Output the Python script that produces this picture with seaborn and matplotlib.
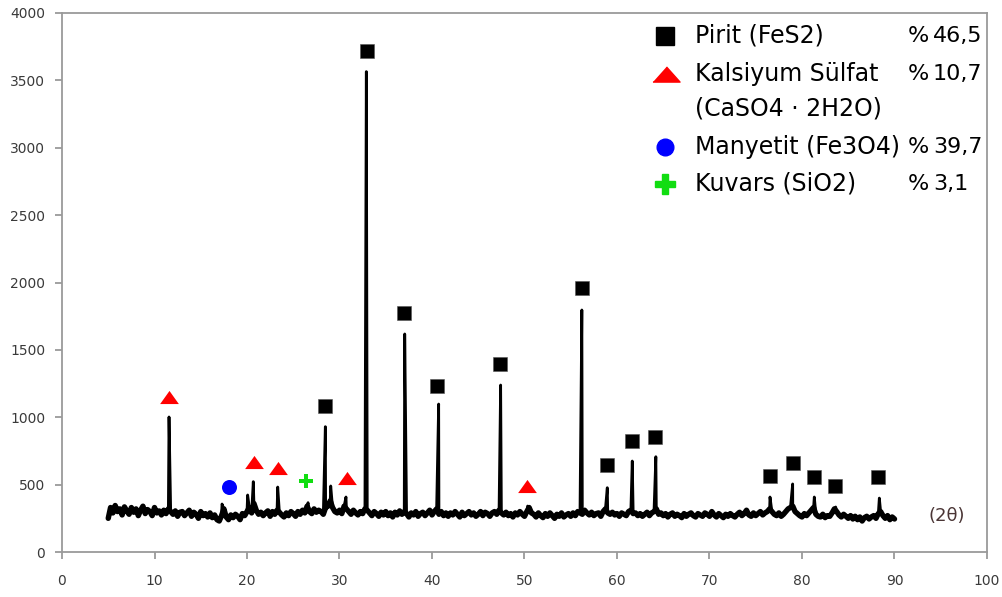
import numpy as np
import pandas as pd
import matplotlib
matplotlib.use("Agg")
import matplotlib.pyplot as plt
import seaborn as sns

# Background counts of the diffractogram, sampled every 0.25 deg from 5 to 90 deg (2-theta)
scan_start = 5.0
scan_step = 0.25
background_counts = [
    250, 330, 290, 345,   300, 320, 275, 335,   305, 280, 330, 295,   320, 270, 310, 340,   # 5-8
    285, 315, 300, 270,   330, 290, 305, 275,   310, 285, 320, 300,   280, 305, 265, 295,   # 9-12
    300, 270, 290, 310,   265, 295, 280, 250,   300, 270, 285, 260,   290, 255, 275, 240,   # 13-16
    230, 270, 320, 260,   240, 275, 255, 280,   265, 240, 285, 270,   300, 330, 290, 360,   # 17-20
    310, 280, 295, 270,   290, 305, 265, 300,   280, 310, 295, 275,   260, 290, 270, 300,   # 21-24
    285, 265, 300, 280,   310, 290, 340, 300,   285, 320, 295, 310,   300, 280, 330, 340,   # 25-28
    380, 330, 300, 290,   310, 285, 340, 320,   300, 280, 310, 290,   275, 300, 285, 320,   # 29-32
    310, 290, 270, 300,   285, 265, 295, 275,   300, 270, 290, 260,   295, 275, 305, 280,   # 33-36
    300, 285, 260, 290,   275, 300, 265, 285,   295, 270, 290, 310,   275, 300, 320, 280,   # 37-40
    300, 270, 290, 265,   290, 275, 300, 280,   260, 295, 270, 285,   300, 275, 290, 265,   # 41-44
    280, 300, 270, 295,   285, 265, 290, 300,   280, 310, 290, 275,   295, 270, 285, 260,   # 45-48
    290, 275, 300, 280,   265, 300, 330, 290,   280, 260, 290, 270,   255, 285, 265, 290,   # 49-52
    270, 250, 280, 265,   290, 260, 275, 285,   265, 290, 270, 300,   290, 280, 310, 290,   # 53-56
    275, 295, 270, 285,   290, 265, 300, 320,   290, 280, 295, 275,   285, 265, 290, 280,   # 57-60
    270, 300, 310, 285,   290, 270, 285, 265,   280, 295, 270, 290,   300, 320, 280, 290,   # 61-64
    270, 285, 260, 280,   290, 265, 280, 270,   255, 285, 265, 280,   290, 270, 260, 285,   # 65-68
    275, 265, 290, 280,   265, 300, 275, 260,   285, 270, 255, 280,   265, 285, 270, 260,   # 69-72
    280, 295, 270, 285,   310, 275, 265, 290,   270, 285, 300, 275,   290, 300, 320, 300,   # 73-76
    280, 270, 290, 265,   280, 300, 320, 330,   340, 300, 285, 270,   260, 285, 270, 290,   # 77-80
    310, 330, 280, 265,   260, 280, 255, 270,   265, 290, 320, 300,   275, 260, 280, 265,   # 81-84
    250, 270, 245, 265,   240, 260, 230, 255,   265, 245, 260, 270,   250, 285, 300, 270,   # 85-88
    250, 270, 240, 260,   245,                                                             # 89-90
]

# Reflection maxima (2-theta, counts)
peak_two_theta = [11.57, 17.30, 20.07, 20.68, 23.32, 26.60, 28.47, 29.05, 30.70, 32.90,
                  37.05, 40.72, 47.42, 50.34, 56.20, 58.95, 61.65, 64.20, 76.54, 78.99,
                  81.33, 83.64, 88.36]
peak_counts = [1002, 356, 423, 522, 482, 366, 930, 490, 408, 3565,
               1618, 1098, 1239, 341, 1796, 477, 675, 707, 408, 505,
               408, 334, 400]

# Phase identification marks
pirit_x = [28.43, 32.94, 36.97, 40.54, 47.35, 56.20, 58.90, 61.57, 64.14, 76.50, 79.00, 81.30, 83.60, 88.25]
pirit_y = [1086, 3718, 1776, 1232, 1395, 1957, 643, 826, 856, 566, 663, 555, 490, 555]
kalsiyum_x = [11.60, 20.79, 23.32, 30.78, 50.30]
kalsiyum_y = [1153, 670, 621, 551, 490]
manyetit_x = [18.05]
manyetit_y = [480]
kuvars_x = [26.38]
kuvars_y = [527]

legend_labels = ["Pirit (FeS2)", "Kalsiyum Sülfat", "(CaSO4 · 2H2O)", "Manyetit (Fe3O4)", "Kuvars (SiO2)"]
legend_percents = ["46,5", "10,7", "", "39,7", "3,1"]

x_ticks = list(range(0, 101, 10))
y_ticks = list(range(0, 4001, 500))

sns.set_theme(style="white")
plt.rcParams["font.family"] = ["DejaVu Sans"]

W, H = 1002, 597
fig = plt.figure(figsize=(W / 100, H / 100), dpi=100)
ax = fig.add_axes([62 / W, 1 - 552 / H, (987 - 62) / W, (552 - 13) / H])

background_theta = scan_start + scan_step * np.arange(len(background_counts))
background = pd.DataFrame({"two_theta": background_theta,
                           "counts": np.array(background_counts, float)})
scan = pd.concat([background,
                  pd.DataFrame({"two_theta": peak_two_theta,
                                "counts": np.array(peak_counts, float)})],
                 ignore_index=True).sort_values("two_theta")

# dense noise band under the scan, then the full scan with its narrow reflections
sns.lineplot(data=background, x="two_theta", y="counts", estimator=None, sort=True,
             color="black", lw=3.9, ax=ax)
sns.lineplot(data=scan, x="two_theta", y="counts", estimator=None, sort=True,
             color="black", lw=2.0, ax=ax)

tri_chart = [(-1, -0.7), (1, -0.7), (0, 0.7)]
tri_legend = [(-1, -0.56), (1, -0.56), (0, 0.56)]

sns.scatterplot(x=pirit_x, y=pirit_y, marker="s", s=9.6 ** 2, color="black",
                edgecolor="#555555", linewidth=0.4, ax=ax, zorder=5)
sns.scatterplot(x=kalsiyum_x, y=kalsiyum_y, marker=tri_chart, s=13.5 ** 2, color="#ff0000",
                linewidth=0, ax=ax, zorder=5)
sns.scatterplot(x=manyetit_x, y=manyetit_y, marker="o", s=10.8 ** 2, color="#0000ff",
                linewidth=0, ax=ax, zorder=5)
sns.scatterplot(x=kuvars_x, y=kuvars_y, marker="P", s=9.4 ** 2, color="#11dd11",
                linewidth=0, ax=ax, zorder=5)

ax.set_xlim(0, 100)
ax.set_ylim(0, 4000)
ax.set_xticks(x_ticks)
ax.set_yticks(y_ticks)
ax.set_xlabel("")
ax.set_ylabel("")

spine_color = "#9a9a9a"
for side in ["left", "bottom", "top", "right"]:
    ax.spines[side].set_visible(True)
    ax.spines[side].set_color(spine_color)
    ax.spines[side].set_linewidth(1.3)
ax.tick_params(axis="both", which="major", direction="out", length=5, width=1.3,
               color=spine_color, labelsize=10, labelcolor="#3a3a3a",
               bottom=True, left=True, top=False, right=False)
ax.tick_params(axis="x", pad=11)
ax.tick_params(axis="y", pad=7)
ax.grid(False)

ax.text(95.7, 267, "(2θ)", fontsize=13, color="#4a3535", ha="center", va="center")


def fx(px):
    return px / W


def fy(py):
    return 1 - py / H


# Phase legend drawn as figure annotations
row_y = [36, 74, 109, 147, 184]
sym_x = 665
text_x = 695
pct_x = 908
num_x = 933
fs = 17
fig.add_artist(plt.Line2D([fx(sym_x)], [fy(row_y[0])], marker="s", markersize=12.5,
                          color="black", linestyle="none"))
fig.add_artist(plt.Line2D([fx(sym_x + 1)], [fy(row_y[1])], marker=tri_legend, markersize=19.5,
                          color="#ff0000", linestyle="none"))
fig.add_artist(plt.Line2D([fx(sym_x)], [fy(row_y[3])], marker="o", markersize=12,
                          color="#0000ff", linestyle="none"))
fig.add_artist(plt.Line2D([fx(sym_x)], [fy(row_y[4])], marker="P", markersize=14.5,
                          color="#11dd11", linestyle="none"))
for label, pct, yy in zip(legend_labels, legend_percents, row_y):
    fig.text(fx(text_x), fy(yy), label, fontsize=fs, color="black", ha="left", va="center")
    if pct:
        fig.text(fx(pct_x), fy(yy), "%", fontsize=16, color="black", ha="left", va="center")
        fig.text(fx(num_x), fy(yy), pct, fontsize=16, color="black", ha="left", va="center")

fig.savefig("out.png", dpi=100)
